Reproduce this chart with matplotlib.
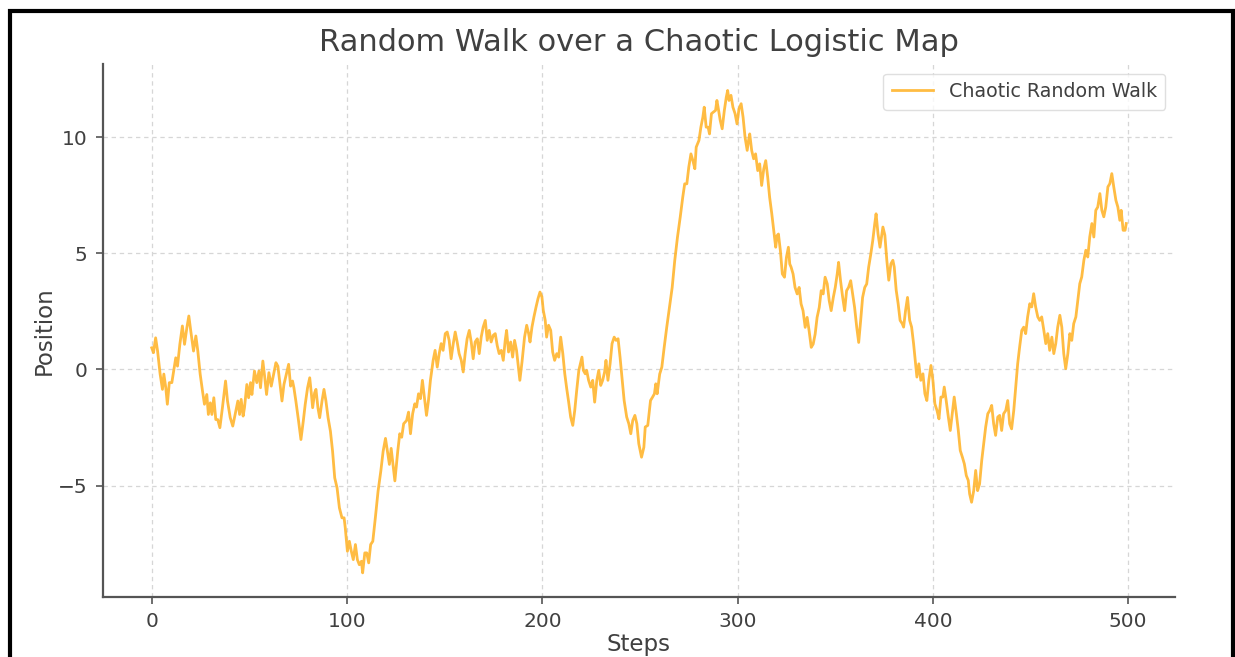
import matplotlib
matplotlib.use("Agg")
import matplotlib.pyplot as plt
from matplotlib.patches import Rectangle

title = "Random Walk over a Chaotic Logistic Map"
x_label = "Steps"
y_label = "Position"
series_label = "Chaotic Random Walk"
x_ticks = [0, 100, 200, 300, 400, 500]
y_ticks = [-5, 0, 5, 10]

steps = [
    0, 0.9, 2, 3, 4.3, 5.5, 6.2, 7.2, 8, 9, 10.3, 11.6, 12.3, 13.2, 14.4, 15.7, 16.8, 18, 19, 20,
    21.4, 22.6, 23.6, 24.8, 26, 27, 28.2, 29, 30, 30.8, 31.8, 32.8, 33.8, 34.9, 36.2, 37.8, 38.8,
    40.2, 41.5, 42.7, 44.1, 45, 45.8, 46.8, 47.5, 48.7, 49.6, 50.6, 51.3, 52.6, 53.8, 54.9, 55.7,
    56.9, 57.8, 58.8, 60, 61.2, 62.4, 63.6, 64.6, 65.6, 66.7, 67.7, 68.9, 70.1, 71.1, 72.1, 72.8,
    73.8, 75.2, 76.4, 77.6, 78.6, 79.8, 80.9, 81.7, 82.4, 83.4, 84.1, 85.1, 86, 87.2, 88.2, 89.2,
    90.3, 91.5, 92.6, 93.7, 94.9, 96.1, 97.4, 98.5, 99.1, 100.2, 101.2, 102.2, 103.2, 104.3, 105.3,
    106.3, 107.4, 108, 109.1, 110.1, 111.1, 112.1, 113.2, 114.5, 115.9, 117.3, 118.5, 119.7, 120.7,
    121.7, 122.6, 124.5, 126, 127, 128, 129, 130.5, 131.5, 132.5, 133.6, 134.7, 135.6, 136.6, 137.6,
    138.6, 139.8, 140.7, 141.7, 142.7, 144.1, 145.1, 146.2, 147.2, 148.2, 149.2, 150.3, 151.3,
    152.3, 153.3, 154.4, 155.4, 156.4, 157.4, 158.5, 159.5, 160.5, 161.5, 162.6, 163.6, 164.6,
    165.6, 166.7, 167.7, 168.7, 169.7, 170.8, 171.8, 172.8, 173.8, 174.9, 175.9, 176.9, 177.9,
    179, 180, 181, 181.7, 182.7, 183.8, 184.8, 185.8, 186.8, 187.9, 188.5, 189.6, 190.9, 192, 193,
    193.7, 194.7, 195.7, 196.8, 197.8, 198.8, 199.8, 200.5, 201.5, 202.2, 203.2, 204.3, 205.3,
    206.3, 207.4, 208.4, 209.4, 210.5, 211.5, 212.5, 213.5, 214.5, 215.6, 216.6, 217.6, 218.7,
    219.7, 220.3, 221, 222, 222.7, 223.7, 224.8, 225.8, 226.8, 227.9, 228.9, 229.9, 230.9, 231.9,
    232.6, 233.6, 234.7, 235.7, 236.8, 237.8, 238.8, 239.8, 240.9, 241.9, 243.2, 244.3, 245.3,
    246.3, 247.4, 248.4, 249.4, 250.8, 252, 252.7, 254, 255.4, 256.4, 257.4, 258.1, 258.8, 260.1,
    261.2, 262.4, 263.7, 265.1, 266.5, 267.8, 269.2, 270.6, 271.9, 272.9, 274, 275, 276.1, 277.1,
    278.1, 278.8, 280.2, 281.2, 282.2, 282.9, 283.9, 284.9, 285.6, 286.6, 287.6, 288.7, 289.4, 290,
    291.1, 292.1, 293.2, 294.2, 294.9, 295.6, 296.6, 297.6, 298.7, 299.7, 300.7, 301.8, 302.8,
    303.8, 304.9, 305.6, 306.2, 307.2, 308.2, 309.2, 310.3, 311.3, 312.3, 313.4, 314.4, 315.4,
    316.4, 317.5, 318.5, 319.5, 320.2, 320.9, 321.9, 322.9, 324, 325, 326, 326.7, 327.4, 328.4,
    329.4, 330.5, 331.5, 332.5, 333.5, 334.6, 335.6, 336.6, 337.7, 338.7, 339.7, 340.7, 341.8,
    342.8, 343.8, 344.8, 345.9, 346.9, 347.9, 349, 350, 351, 351.7, 352.7, 353.8, 354.8, 355.8,
    356.8, 357.9, 358.9, 359.9, 361, 362, 363, 364, 365.1, 366.1, 367.1, 368.2, 369.2, 370.2, 370.9,
    371.9, 372.9, 374.4, 375.4, 376.4, 377.4, 378.5, 379.5, 380.2, 381.2, 382.2, 383.2, 384.3, 385,
    386, 387, 388.1, 389.1, 390.1, 391.1, 391.8, 392.8, 393.8, 394.9, 395.9, 396.9, 397.9, 399, 400,
    401, 402.1, 403.1, 404.1, 405.1, 405.8, 406.8, 407.9, 408.9, 409.9, 410.9, 412, 413, 414, 415.1,
    416.1, 417.1, 418.1, 418.8, 419.8, 420.9, 421.9, 422.9, 423.9, 425, 426, 427, 428.1, 429.1,
    430.1, 431.1, 432.1, 433.2, 434.2, 435.2, 436.2, 437.3, 438.3, 439.3, 440.3, 441.4, 442.4,
    443.4, 444.4, 445.5, 446.5, 447.5, 448.5, 449.6, 450.6, 451.6, 452.6, 453.7, 454.7, 455.7,
    456.8, 457.8, 458.8, 459.8, 460.9, 461.9, 462.9, 463.9, 465, 466, 467, 468, 469.1, 470.1, 471.1,
    472.1, 473.2, 474.2, 475.2, 476.2, 477.3, 478.3, 479.3, 480.3, 481.4, 482.4, 483.4, 484.4,
    485.5, 486.5, 487.5, 488.5, 489.6, 490.6, 491.6, 492.6, 493.7, 494.7, 495.7, 496.4, 497.4,
    498.4, 499,
]

positions = [
    0.93, 0.72, 1.36, 0.79, -0.2, -0.86, -0.2, -0.79, -1.5, -0.57, -0.57, 0.14, 0.5, 0.14, 1.08,
    1.87, 1.08, 1.8, 2.3, 1.65, 0.79, 1.44, 0.79, -0.2, -0.93, -1.5, -1.08, -1.94, -1.44, -1.94,
    -1.22, -2.16, -2.16, -2.51, -1.65, -0.5, -1.36, -2.08, -2.44, -1.94, -1.36, -1.94, -1.29, -2.01,
    -1.65, -0.65, -1.22, -0.57, -1.08, -0.07, -0.57, -0.07, -0.79, 0.36, -0.29, -1.08, -0.14, -0.72,
    -0.22, 0.29, 0.14, -0.57, -1.36, -0.65, -0.22, 0.22, -0.72, -0.5, -0.79, -1.36, -2.23, -3.02,
    -2.23, -1.5, -0.79, -0.36, -1.01, -1.65, -1.01, -0.86, -1.65, -2.08, -1.36, -0.86, -1.36, -2.08,
    -2.66, -3.52, -4.67, -5.1, -5.96, -6.39, -6.39, -6.82, -7.83, -7.4, -7.83, -8.19, -7.54, -8.19,
    -8.41, -8.26, -8.76, -7.9, -7.9, -8.33, -7.54, -7.4, -6.39, -5.24, -4.38, -3.52, -2.97, -3.52,
    -4.09, -3.4, -4.8, -3.5, -2.77, -2.92, -2.34, -2.2, -1.84, -2.77, -1.91, -1.48, -1.62, -1.05,
    -1.26, -0.47, -1.34, -1.98, -1.34, -0.47, 0.39, 0.82, 0.1, 0.68, 1.11, 0.82, 1.54, 1.61, 1.25,
    0.46, 1.11, 1.61, 1.18, 0.68, 0.39, -0.11, 0.68, 1.32, 1.68, 1.18, 0.46, 1.18, 1.32, 0.68, 1.39,
    1.82, 2.11, 1.25, 1.68, 1.18, 1.47, 1.54, 1.03, 0.68, 0.82, 0.39, 1.25, 1.68, 0.75, 1.18, 0.53,
    1.25, 0.82, -0.04, -0.47, 0.32, 1.39, 1.9, 1.54, 1.18, 1.82, 2.26, 2.69, 3.05, 3.33, 3.12, 2.54,
    2.11, 1.39, 1.9, 1.68, 0.75, 0.39, 0.68, 0.53, 1.39, 0.68, -0.19, -0.83, -1.41, -2.05, -2.41,
    -1.77, -0.91, -0.04, 0.32, 0.53, -0.04, -0.19, -0.04, -0.47, -0.76, -0.47, -1.41, -0.47, -0.04,
    -0.69, -0.47, -0.11, 0.39, -0.47, 0.24, 1.11, 1.39, 1.25, 1.32, 0.53, -0.47, -1.34, -2.05,
    -2.34, -2.77, -2.2, -1.98, -2.34, -3.2, -3.78, -3.35, -2.48, -2.41, -1.34, -1.2, -1.05, -0.62,
    -1.05, -0.2, 0.1, 0.95, 1.81, 2.67, 3.53, 4.68, 5.69, 6.55, 7.41, 7.99, 7.99, 8.71, 9.28, 8.99,
    8.64, 9.57, 9.86, 10.43, 10.86, 11.29, 10.43, 10.43, 10.14, 11.01, 11.08, 11.15, 11.58, 11.29,
    10.72, 10.36, 11.15, 11.72, 12.01, 11.58, 11.8, 11.29, 11.01, 10.57, 11.22, 11.44, 10.86, 10.0,
    9.43, 9.86, 10.14, 9.43, 9.07, 9.28, 8.56, 8.85, 7.92, 8.64, 8.99, 8.28, 7.41, 6.7, 5.98, 5.26,
    5.76, 5.83, 5.11, 4.11, 3.97, 4.83, 5.26, 4.54, 4.4, 4.11, 3.53, 3.25, 3.53, 2.82, 2.53, 1.81,
    2.24, 1.67, 0.95, 1.09, 1.52, 2.24, 2.67, 3.39, 3.25, 3.97, 3.68, 2.96, 2.53, 3.1, 3.53, 4.11,
    4.61, 3.82, 3.1, 2.53, 3.39, 3.53, 3.82, 3.25, 2.67, 1.81, 1.16, 2.1, 3.1, 3.53, 3.68, 4.4, 4.97,
    5.55, 6.26, 6.7, 5.83, 5.26, 6.13, 5.78, 4.7, 3.84, 4.55, 4.7, 4.41, 3.41, 2.83, 2.11, 1.97,
    1.82, 2.54, 3.1, 2.11, 1.82, 1.11, 0.24, -0.33, 0.24, -0.47, -0.19, -1.05, -1.34, -0.47, 0.17,
    -0.47, -1.48, -1.77, -2.13, -1.19, -1.19, -0.76, -1.34, -2.05, -2.63, -1.91, -1.19, -1.91, -2.63,
    -3.49, -3.78, -4.07, -4.57, -4.78, -5.36, -5.72, -5.22, -4.35, -5.22, -4.93, -3.92, -3.2, -2.49,
    -1.91, -1.77, -1.55, -2.34, -2.84, -2.05, -1.98, -2.63, -1.91, -1.77, -1.34, -2.34, -2.56,
    -1.77, -0.76, 0.24, 0.96, 1.68, 1.82, 1.54, 2.26, 2.83, 2.69, 3.26, 2.69, 2.26, 2.11, 2.26, 1.68,
    1.11, 1.54, 0.82, 1.39, 0.68, 1.11, 1.82, 2.33, 1.82, 0.68, 0.03, 0.68, 1.54, 1.25, 1.97, 2.26,
    2.97, 3.69, 3.98, 4.7, 5.13, 4.84, 5.7, 6.28, 5.7, 6.85, 6.99, 7.57, 6.85, 6.57, 6.99, 7.86, 8.0,
    8.43, 7.86, 7.28, 6.99, 6.42, 6.85, 5.99, 5.99, 6.28,
]

fig = plt.figure(figsize=(12.35, 6.57), dpi=100)
ax = fig.add_axes([0.0834, 0.0913, 0.868, 0.8113])

ax.plot(steps, positions, color="#FFB52E", alpha=0.9, linewidth=2.0, label=series_label)

ax.set_xticks(x_ticks)
ax.set_yticks(y_ticks)
ax.set_xlim(-24.95, 523.95)
ax.set_ylim(-9.8, 13.15)

text_color = "#404040"
ax.set_title(title, fontsize=22, color=text_color, pad=9)
ax.set_xlabel(x_label, fontsize=16.5, color=text_color, labelpad=1)
ax.set_ylabel(y_label, fontsize=16.5, color=text_color, labelpad=2)

ax.grid(True, linestyle=(0, (3.5, 3)), color="#d6d6d6", linewidth=0.9)
ax.set_axisbelow(True)
for side in ("top", "right"):
    ax.spines[side].set_visible(False)
for side in ("left", "bottom"):
    ax.spines[side].set_color("#555555")
    ax.spines[side].set_linewidth(1.6)
ax.tick_params(axis="both", labelsize=14.5, colors=text_color, length=5, width=1.2,
               color="#555555", pad=6)

leg = ax.legend(loc="upper right", fontsize=13.7, frameon=True, fancybox=True,
                borderpad=0.45, handlelength=2.2)
leg.get_frame().set_edgecolor("#d8d8d8")
for t in leg.get_texts():
    t.set_color(text_color)

border = Rectangle((9.5 / 1235, -0.1), (1232.5 - 9.5) / 1235, 1.1 - 10.8 / 657,
                   transform=fig.transFigure, fill=False, edgecolor="black",
                   linewidth=3.0, clip_on=False)
fig.patches.append(border)

fig.savefig("out.png", dpi=100)
